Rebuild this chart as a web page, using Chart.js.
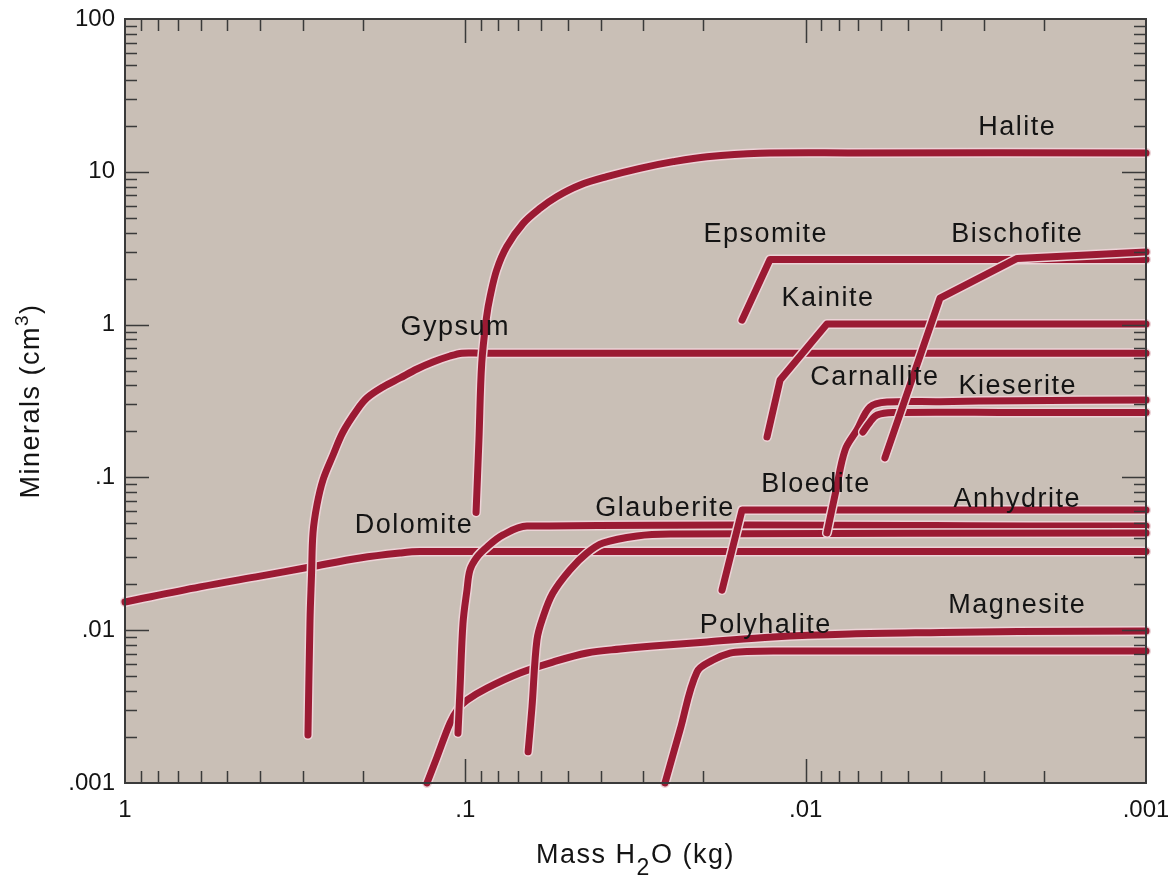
<!DOCTYPE html>
<html>
<head>
<meta charset="utf-8">
<script src="https://cdn.jsdelivr.net/npm/chart.js@4.4.1/dist/chart.umd.min.js"></script>
<style>
  html, body { margin: 0; padding: 0; background: #ffffff; }
  #wrap { width: 1168px; height: 878px; }
</style>
</head>
<body>
<div id="wrap"><canvas id="c" width="1168" height="878"></canvas></div>
<script>
// Mineral volumes (cm3) against remaining mass of water (kg) during evaporation
const haliteX = [0.093, 0.0912, 0.0895, 0.0866, 0.0846, 0.0809, 0.0756, 0.0676, 0.0603, 0.0539, 0.046, 0.0384, 0.0307, 0.0245, 0.0195, 0.0136, 0.0074, 0.001];
const haliteY = [0.059, 0.176, 0.558, 1.126, 1.522, 2.277, 3.234, 4.6, 5.77, 6.87, 8.19, 9.29, 10.54, 11.65, 12.56, 13.22, 13.3, 13.3];

const gypsumX = [0.29, 0.286, 0.2831, 0.2803, 0.2729, 0.262, 0.2447, 0.2288, 0.2081, 0.1945, 0.1745, 0.1556, 0.1387, 0.1245, 0.1109, 0.1023, 0.09, 0.001];
const gypsumY = [0.00206, 0.01166, 0.023, 0.0433, 0.066, 0.0962, 0.1401, 0.1982, 0.2761, 0.331, 0.3905, 0.447, 0.5122, 0.569, 0.623, 0.65, 0.65, 0.65];

const dolomiteX = [1, 0.602, 0.401, 0.286, 0.204, 0.1556, 0.1359, 0.001];
const dolomiteY = [0.0153, 0.0192, 0.0226, 0.0259, 0.0297, 0.032, 0.0327, 0.0327];

const glauberiteX = [0.1051, 0.1037, 0.1016, 0.0989, 0.0969, 0.0924, 0.0864, 0.0775, 0.0659, 0.001];
const glauberiteY = [0.00212, 0.00406, 0.0111, 0.0183, 0.0248, 0.0301, 0.035, 0.042, 0.048, 0.048];

const anhydriteX = [0.0654, 0.0637, 0.0616, 0.0591, 0.0553, 0.0493, 0.0439, 0.0394, 0.0313, 0.025, 0.001];
const anhydriteY = [0.0016, 0.00314, 0.00863, 0.0122, 0.0175, 0.0248, 0.032, 0.0372, 0.0414, 0.0426, 0.0433];

const magnesiteX = [0.1296, 0.1211, 0.1109, 0.1051, 0.0989, 0.0864, 0.0691, 0.0553, 0.0439, 0.0351, 0.0281, 0.0195, 0.01247, 0.00741, 0.00398, 0.00238, 0.001];
const magnesiteY = [0.001, 0.00148, 0.00247, 0.00305, 0.00349, 0.00418, 0.00525, 0.00619, 0.00709, 0.00753, 0.00788, 0.00837, 0.00903, 0.00944, 0.00966, 0.00981, 0.00988];

const polyhaliteX = [0.0259, 0.0234, 0.02086, 0.01872, 0.01669, 0.01488, 0.01247, 0.001];
const polyhaliteY = [0.001, 0.00222, 0.00533, 0.00638, 0.00709, 0.00725, 0.00731, 0.00731];

const bloediteX = [0.01761, 0.01538, 0.001];
const bloediteY = [0.0183, 0.0612, 0.0612];

const epsomiteX = [0.01538, 0.01273, 0.001];
const epsomiteY = [1.07, 2.67, 2.67];

const kainiteX = [0.01299, 0.01189, 0.00866, 0.001];
const kainiteY = [0.184, 0.434, 1.01, 1.01];

const kieseriteX = [0.00866, 0.00814, 0.00766, 0.00707, 0.00647, 0.00577, 0.00403, 0.00239, 0.001];
const kieseriteY = [0.0433, 0.0827, 0.151, 0.204, 0.289, 0.311, 0.313, 0.318, 0.321];

const carnalliteX = [0.00679, 0.00647, 0.00617, 0.00554, 0.00239, 0.001];
const carnalliteY = [0.198, 0.2305, 0.256, 0.266, 0.266, 0.266];

const bischofiteX = [0.00585, 0.00403, 0.00239, 0.00171, 0.001];
const bischofiteY = [0.134, 1.49, 2.71, 2.81, 2.99];

// Curve labels: text and anchor (centre of the text) in data units
const labelText = ['Halite', 'Epsomite', 'Bischofite', 'Kainite', 'Gypsum', 'Carnallite', 'Kieserite',
                   'Bloedite', 'Dolomite', 'Glauberite', 'Anhydrite', 'Polyhalite', 'Magnesite'];
const labelX = [0.00239, 0.0131, 0.00239, 0.0086, 0.107, 0.00626, 0.00238, 0.00932, 0.1416, 0.0259, 0.00239, 0.0131, 0.00239];
const labelY = [19.4, 3.86, 3.86, 1.49, 0.95, 0.447, 0.396, 0.0892, 0.0481, 0.063, 0.0711, 0.01065, 0.0146];

// Axis tick labels
const xTickValues = [1, 0.1, 0.01, 0.001];
const xTickLabels = ['1', '.1', '.01', '.001'];
const yTickValues = [100, 10, 1, 0.1, 0.01, 0.001];
const yTickLabels = ['100', '10', '1', '.1', '.01', '.001'];

const LINE = '#9b1a33';
const HALO = '#ecd3d7';
const PLOT_BG = '#c9bfb6';
const INK = '#141414';
const FONT = '"Liberation Sans", Arial, sans-serif';

// Draw order (bottom to top); smooth flag selects a spline vs straight segments
const series = [
  ['Dolomite', dolomiteX, dolomiteY, true],
  ['Gypsum', gypsumX, gypsumY, true],
  ['Magnesite', magnesiteX, magnesiteY, true],
  ['Glauberite', glauberiteX, glauberiteY, true],
  ['Halite', haliteX, haliteY, true],
  ['Anhydrite', anhydriteX, anhydriteY, true],
  ['Polyhalite', polyhaliteX, polyhaliteY, true],
  ['Bloedite', bloediteX, bloediteY, false],
  ['Epsomite', epsomiteX, epsomiteY, false],
  ['Kainite', kainiteX, kainiteY, false],
  ['Kieserite', kieseriteX, kieseriteY, true],
  ['Carnallite', carnalliteX, carnalliteY, true],
  ['Bischofite', bischofiteX, bischofiteY, false]
];

function points(xs, ys) { return xs.map((x, i) => ({ x: x, y: ys[i] })); }

// Chart.js paints dataset 0 last, so list top-most series first, each line before its halo
const datasets = [];
for (let i = series.length - 1; i >= 0; i--) {
  const [name, xs, ys, smooth] = series[i];
  const common = {
    data: points(xs, ys),
    showLine: true,
    pointRadius: 0,
    borderCapStyle: 'round',
    borderJoinStyle: 'round',
    tension: smooth ? 0.35 : 0,
    clip: 8
  };
  datasets.push(Object.assign({}, common, { label: name, borderColor: LINE, borderWidth: 7 }));
  datasets.push(Object.assign({}, common, { label: name + ' halo', borderColor: HALO, borderWidth: 10 }));
}

function majorMinor(lo, hi) {
  const out = [];
  for (let e = Math.round(Math.log10(lo)); e <= Math.round(Math.log10(hi)); e++) {
    for (let m = 1; m <= 9; m++) {
      const v = m * Math.pow(10, e);
      if (v >= lo * 0.999 && v <= hi * 1.001) out.push({ v: v, major: m === 1 });
    }
  }
  return out;
}

const framePlugin = {
  id: 'frame',
  beforeDatasetsDraw(chart) {
    const { ctx, chartArea: a } = chart;
    ctx.save();
    ctx.fillStyle = PLOT_BG;
    ctx.fillRect(a.left, a.top, a.right - a.left, a.bottom - a.top);
    ctx.restore();
  },
  afterDatasetsDraw(chart) {
    const { ctx, chartArea: a, scales } = chart;
    const xs = scales.x, ys = scales.y;
    ctx.save();
    ctx.strokeStyle = '#3a3a3a';
    ctx.lineWidth = 1.5;
    // inward ticks on all four sides
    ctx.beginPath();
    majorMinor(0.001, 1).forEach(t => {
      const px = Math.round(xs.getPixelForValue(t.v)) + 0.5;
      if (px <= a.left + 1 || px >= a.right - 1) return;
      const len = t.major ? 24 : 12;
      ctx.moveTo(px, a.bottom); ctx.lineTo(px, a.bottom - len);
      ctx.moveTo(px, a.top); ctx.lineTo(px, a.top + len);
    });
    majorMinor(0.001, 100).forEach(t => {
      const py = Math.round(ys.getPixelForValue(t.v)) + 0.5;
      if (py <= a.top + 1 || py >= a.bottom - 1) return;
      const len = t.major ? 24 : 12;
      ctx.moveTo(a.left, py); ctx.lineTo(a.left + len, py);
      ctx.moveTo(a.right, py); ctx.lineTo(a.right - len, py);
    });
    ctx.stroke();
    ctx.lineWidth = 2;
    ctx.strokeRect(a.left, a.top, a.right - a.left, a.bottom - a.top);

    // tick labels
    ctx.fillStyle = INK;
    ctx.font = '24px ' + FONT;
    ctx.textBaseline = 'middle';
    ctx.textAlign = 'center';
    xTickValues.forEach((v, i) => ctx.fillText(xTickLabels[i], xs.getPixelForValue(v), a.bottom + 27));
    ctx.textAlign = 'right';
    yTickValues.forEach((v, i) => ctx.fillText(yTickLabels[i], a.left - 10, ys.getPixelForValue(v)));

    // curve labels
    ctx.font = '27px ' + FONT;
    ctx.textAlign = 'center';
    if ('letterSpacing' in ctx) ctx.letterSpacing = '1.5px';
    labelText.forEach((t, i) => ctx.fillText(t, xs.getPixelForValue(labelX[i]), ys.getPixelForValue(labelY[i])));

    // x axis title: Mass H2O (kg) with subscript 2
    const big = '27px ' + FONT, small = '23px ' + FONT;
    const partsX = [['Mass H', big, 0], ['2', small, 12], ['O (kg)', big, 0]];
    ctx.textAlign = 'left';
    ctx.textBaseline = 'alphabetic';
    let w = 0;
    partsX.forEach(p => { ctx.font = p[1]; w += ctx.measureText(p[0]).width; });
    let cx = (a.left + a.right) / 2 - w / 2;
    const baseX = 863;
    partsX.forEach(p => { ctx.font = p[1]; ctx.fillText(p[0], cx, baseX + p[2]); cx += ctx.measureText(p[0]).width; });

    // y axis title: Minerals (cm3) with superscript 3, rotated
    const partsY = [['Minerals (cm', big, 0], ['3', '19px ' + FONT, -11], [')', big, 0]];
    ctx.translate(39, (a.top + a.bottom) / 2);
    ctx.rotate(-Math.PI / 2);
    w = 0;
    partsY.forEach(p => { ctx.font = p[1]; w += ctx.measureText(p[0]).width; });
    let cy = -w / 2;
    partsY.forEach(p => { ctx.font = p[1]; ctx.fillText(p[0], cy, p[2]); cy += ctx.measureText(p[0]).width; });
    ctx.restore();
  }
};

new Chart(document.getElementById('c'), {
  type: 'scatter',
  data: { datasets: datasets },
  options: {
    responsive: false,
    animation: false,
    events: [],
    layout: { padding: { left: 125, right: 22, top: 19, bottom: 95 } },
    plugins: { legend: { display: false }, tooltip: { enabled: false } },
    scales: {
      x: { type: 'logarithmic', reverse: true, min: 0.001, max: 1, display: false },
      y: { type: 'logarithmic', min: 0.001, max: 100, display: false }
    }
  },
  plugins: [framePlugin]
});
</script>
</body>
</html>
